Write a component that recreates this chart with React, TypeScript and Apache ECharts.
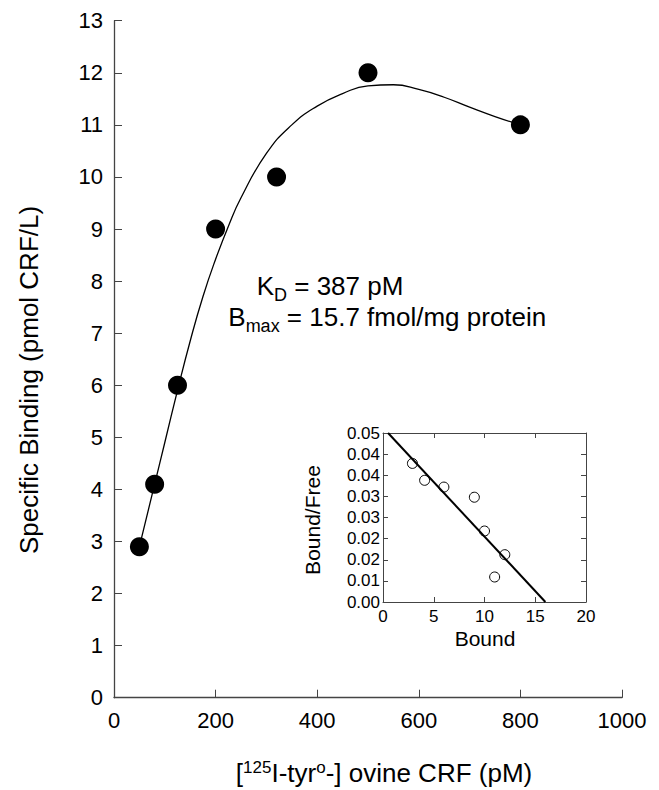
import React, { useEffect, useRef } from 'react';
import * as echarts from 'echarts';

// Main saturation plot
const concentrations = [50, 80, 125, 200, 320, 500, 800];
const specificBinding = [2.9, 4.1, 6, 9, 10, 12, 11];
// Fitted curve
const fitX = [50, 80, 100, 125, 150, 175, 200, 225, 250, 300, 350, 400, 450, 500, 550, 600, 650, 700, 750, 800];
const fitY = [2.9, 4.1, 4.9, 5.9, 6.85, 7.7, 8.42, 9.05, 9.6, 10.45, 11.0, 11.36, 11.6, 11.75, 11.77, 11.68, 11.53, 11.34, 11.16, 11.0];

// Scatchard inset
const bound = [2.9, 4.1, 6, 9, 10, 12, 11];
const boundFree = [0.041, 0.036, 0.034, 0.031, 0.021, 0.014, 0.0074];
const scatchardX = [0.5, 16];
const scatchardY = [0.05, 0];
const insetYTickLabels = ['0.00', '0.01', '0.02', '0.02', '0.03', '0.03', '0.04', '0.04', '0.05'];

const FONT = "'Liberation Sans', Arial, Helvetica, sans-serif";

export default function App() {
  const ref = useRef<HTMLDivElement>(null);
  useEffect(() => {
    document.body.style.margin = '0';
    const chart = echarts.init(ref.current!, undefined, { renderer: 'svg' });
    const axisColor = '#444';
    const option: any = {
      animation: false,
      backgroundColor: '#fff',
      textStyle: { fontFamily: FONT },
      grid: [
        { left: 114, top: 20.7, width: 508, height: 677, containLabel: false },
        { left: 383, top: 433, width: 203, height: 169, containLabel: false },
      ],
      xAxis: [
        {
          gridIndex: 0, type: 'value', min: 0, max: 1000, interval: 200,
          axisLine: { show: true, lineStyle: { color: axisColor, width: 1.3 } },
          axisTick: { show: true, inside: true, length: 8, lineStyle: { color: axisColor } },
          axisLabel: { fontSize: 22, color: '#000', margin: 12, fontFamily: FONT, formatter: (v: number) => String(v) },
          splitLine: { show: false },
        },
        {
          gridIndex: 1, type: 'value', min: 0, max: 20, interval: 5,
          axisLine: { show: true, onZero: false, lineStyle: { color: axisColor, width: 1 } },
          axisTick: { show: true, inside: true, length: 5, lineStyle: { color: axisColor } },
          axisLabel: { fontSize: 17, color: '#000', margin: 6, fontFamily: FONT, formatter: (v: number) => String(v) },
          splitLine: { show: false },
        },
        {
          gridIndex: 1, type: 'value', min: 0, max: 20, interval: 5, position: 'top',
          axisLine: { show: true, onZero: false, lineStyle: { color: axisColor, width: 1 } },
          axisTick: { show: true, inside: true, length: 5, lineStyle: { color: axisColor } },
          axisLabel: { show: false },
          splitLine: { show: false },
        },
      ],
      yAxis: [
        {
          gridIndex: 0, type: 'value', min: 0, max: 13, interval: 1,
          axisLine: { show: true, lineStyle: { color: axisColor, width: 1.3 } },
          axisTick: { show: true, inside: true, length: 8, lineStyle: { color: axisColor } },
          axisLabel: { fontSize: 22, color: '#000', margin: 11, fontFamily: FONT },
          splitLine: { show: false },
        },
        {
          gridIndex: 1, type: 'value', min: 0, max: 0.05, interval: 0.00625,
          axisLine: { show: true, onZero: false, lineStyle: { color: axisColor, width: 1 } },
          axisTick: { show: true, inside: true, length: 5, lineStyle: { color: axisColor } },
          axisLabel: {
            fontSize: 17, color: '#000', margin: 3, fontFamily: FONT,
            formatter: (v: number) => insetYTickLabels[Math.round(v / 0.00625)] ?? '',
          },
          splitLine: { show: false },
        },
        {
          gridIndex: 1, type: 'value', min: 0, max: 0.05, interval: 0.00625, position: 'right',
          axisLine: { show: true, onZero: false, lineStyle: { color: axisColor, width: 1 } },
          axisTick: { show: true, inside: true, length: 5, lineStyle: { color: axisColor } },
          axisLabel: { show: false },
          splitLine: { show: false },
        },
      ],
      series: [
        {
          type: 'line', xAxisIndex: 0, yAxisIndex: 0,
          data: fitX.map((x, i) => [x, fitY[i]]),
          smooth: true, symbol: 'none',
          lineStyle: { color: '#000', width: 1.3 },
          z: 2,
        },
        {
          type: 'scatter', xAxisIndex: 0, yAxisIndex: 0,
          data: concentrations.map((x, i) => [x, specificBinding[i]]),
          symbol: 'circle', symbolSize: 19,
          itemStyle: { color: '#000', opacity: 1 },
          z: 3,
        },
        {
          type: 'line', xAxisIndex: 1, yAxisIndex: 1,
          data: scatchardX.map((x, i) => [x, scatchardY[i]]),
          symbol: 'none',
          lineStyle: { color: '#000', width: 2 },
          z: 2,
        },
        {
          type: 'scatter', xAxisIndex: 1, yAxisIndex: 1,
          data: bound.map((x, i) => [x, boundFree[i]]),
          symbol: 'circle', symbolSize: 10,
          itemStyle: { color: 'rgba(255,255,255,0)', borderColor: '#000', borderWidth: 1, opacity: 1 },
          z: 3,
        },
      ],
      graphic: [
        {
          type: 'text', x: 29, y: 380, rotation: Math.PI / 2,
          style: {
            text: 'Specific Binding (pmol CRF/L)', fontSize: 26, fontFamily: FONT, fill: '#000',
            align: 'center', verticalAlign: 'middle', textAlign: 'center', textVerticalAlign: 'middle',
          },
        },
        {
          type: 'text', x: 384, y: 773,
          style: {
            text: '[{sup|125}I-tyr{sup|o}-] ovine CRF (pM)', fontSize: 26, lineHeight: 29, fontFamily: FONT, fill: '#000',
            align: 'center', verticalAlign: 'middle', textAlign: 'center', textVerticalAlign: 'middle',
            rich: { sup: { fontSize: 17, lineHeight: 17, verticalAlign: 'top', fontFamily: FONT, fill: '#000' } },
          },
        },
        {
          type: 'text', x: 256.7, y: 286,
          style: {
            text: 'K{sub|D} = 387 pM', fontSize: 26, lineHeight: 36, fontFamily: FONT, fill: '#000',
            align: 'left', verticalAlign: 'middle', textAlign: 'left', textVerticalAlign: 'middle',
            rich: { sub: { fontSize: 18, lineHeight: 18, verticalAlign: 'bottom', fontFamily: FONT, fill: '#000' } },
          },
        },
        {
          type: 'text', x: 228.3, y: 317,
          style: {
            text: 'B{sub|max} = 15.7 fmol/mg protein', fontSize: 26, lineHeight: 36, fontFamily: FONT, fill: '#000',
            align: 'left', verticalAlign: 'middle', textAlign: 'left', textVerticalAlign: 'middle',
            rich: { sub: { fontSize: 18, lineHeight: 18, verticalAlign: 'bottom', fontFamily: FONT, fill: '#000' } },
          },
        },
        {
          type: 'text', x: 485, y: 638,
          style: {
            text: 'Bound', fontSize: 21, fontFamily: FONT, fill: '#000',
            align: 'center', verticalAlign: 'middle', textAlign: 'center', textVerticalAlign: 'middle',
          },
        },
        {
          type: 'text', x: 312, y: 520, rotation: Math.PI / 2,
          style: {
            text: 'Bound/Free', fontSize: 21, fontFamily: FONT, fill: '#000',
            align: 'center', verticalAlign: 'middle', textAlign: 'center', textVerticalAlign: 'middle',
          },
        },
      ],
    };
    chart.setOption(option);
    return () => chart.dispose();
  }, []);
  return <div ref={ref} style={{ width: 659, height: 790 }} />;
}
